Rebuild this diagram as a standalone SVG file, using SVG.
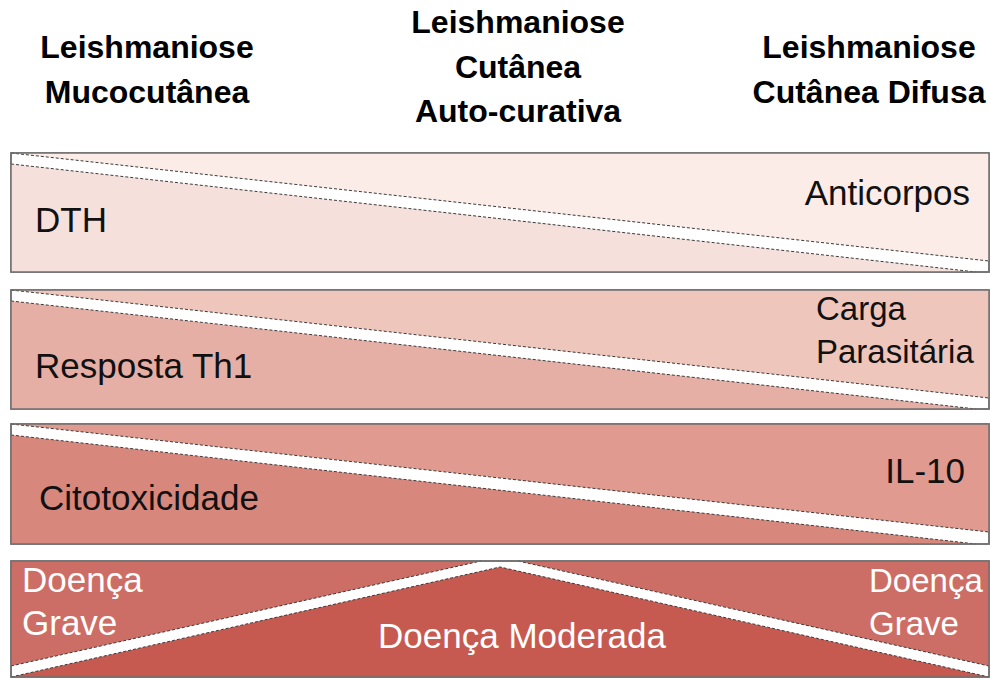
<svg xmlns="http://www.w3.org/2000/svg" width="990" height="679" viewBox="0 0 990 679">
<style>
.hdr{font-family:"Liberation Sans",Arial,sans-serif;font-weight:bold;font-size:32px;fill:#000;text-anchor:middle}
.lbl{font-family:"Liberation Sans",Arial,sans-serif;font-size:35px;fill:#111}
.wl{font-family:"Liberation Sans",Arial,sans-serif;font-size:35px;fill:#fff}
.sm{font-size:33px}
.frame{fill:#fff;stroke:#6f6f6f;stroke-width:1.5}
.edge{fill:none;stroke:#3a3a3a;stroke-width:1;stroke-dasharray:3 2}
</style>
<rect width="990" height="679" fill="#fff"/>
<g id="headers">
<text class="hdr" x="147" y="58">Leishmaniose</text>
<text class="hdr" x="147" y="103">Mucocutânea</text>
<text class="hdr" x="518" y="33">Leishmaniose</text>
<text class="hdr" x="518" y="78">Cutânea</text>
<text class="hdr" x="518" y="122">Auto-curativa</text>
<text class="hdr" x="869" y="58">Leishmaniose</text>
<text class="hdr" x="869" y="103">Cutânea Difusa</text>
</g>
<g id="band1">
<rect class="frame" x="11" y="153" width="978" height="119"/>
<polygon points="11,153 989,153 989,261" fill="#FBECE8"/>
<polygon points="11,164 11,272 976,272" fill="#F6E0DB"/>
<line class="edge" x1="11" y1="153" x2="989" y2="261"/>
<line class="edge" x1="11" y1="164" x2="976" y2="272"/>
<rect x="11" y="153" width="978" height="119" fill="none" stroke="#6f6f6f" stroke-width="1.5"/>
<text class="lbl" x="35" y="232">DTH</text>
<text class="lbl" x="970" y="205" text-anchor="end">Anticorpos</text>
</g>
<g id="band2">
<rect class="frame" x="11" y="290" width="978" height="119"/>
<polygon points="11,290 989,290 989,398" fill="#EEC6BC"/>
<polygon points="11,301 11,409 976,409" fill="#E6AFA6"/>
<line class="edge" x1="11" y1="290" x2="989" y2="398"/>
<line class="edge" x1="11" y1="301" x2="976" y2="409"/>
<rect x="11" y="290" width="978" height="119" fill="none" stroke="#6f6f6f" stroke-width="1.5"/>
<text class="lbl" x="35" y="378">Resposta Th1</text>
<text class="lbl sm" x="816" y="320">Carga</text>
<text class="lbl sm" x="816" y="363">Parasitária</text>
</g>
<g id="band3">
<rect class="frame" x="11" y="424" width="978" height="120"/>
<polygon points="11,424 989,424 989,532" fill="#E09A8F"/>
<polygon points="11,435 11,544 976,544" fill="#D8877D"/>
<line class="edge" x1="11" y1="424" x2="989" y2="532"/>
<line class="edge" x1="11" y1="435" x2="976" y2="544"/>
<rect x="11" y="424" width="978" height="120" fill="none" stroke="#6f6f6f" stroke-width="1.5"/>
<text class="lbl" x="965" y="483" text-anchor="end">IL-10</text>
<text class="lbl" x="39" y="510">Citotoxicidade</text>
</g>
<g id="band4">
<rect class="frame" x="11" y="561" width="978" height="116"/>
<polygon points="11,561 481,561 11,666" fill="#CD6E66"/>
<polygon points="518,561 989,561 989,666" fill="#CD6E66"/>
<polygon points="500,567 989,677 11,677" fill="#C65A51"/>
<polyline class="edge" points="11,666 481,561"/>
<polyline class="edge" points="518,561 989,666"/>
<polyline class="edge" points="11,677 500,567 989,677"/>
<rect x="11" y="561" width="978" height="116" fill="none" stroke="#6f6f6f" stroke-width="1.5"/>
<text class="wl" x="22" y="592">Doença</text>
<text class="wl" x="22" y="635">Grave</text>
<text class="wl sm" x="869" y="592">Doença</text>
<text class="wl sm" x="869" y="635">Grave</text>
<text class="wl" x="522" y="648" text-anchor="middle">Doença Moderada</text>
</g>
</svg>
